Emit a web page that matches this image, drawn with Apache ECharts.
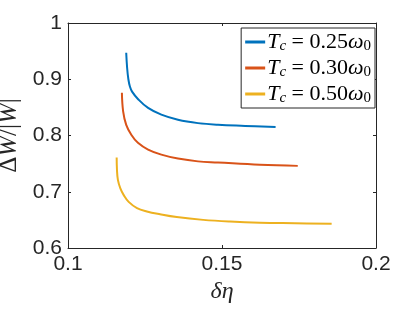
<!DOCTYPE html>
<html><head><meta charset="utf-8">
<script src="https://cdn.jsdelivr.net/npm/echarts@6/dist/echarts.min.js"></script>
<style>html,body{margin:0;padding:0;background:#fff}#c{width:415px;height:312px}</style>
</head><body><div id="c"></div>
<script>
var seriesNames = ['0.25', '0.30', '0.50'];
var blueX = [0.1189, 0.1192, 0.1196, 0.1201, 0.1208, 0.1227, 0.1260, 0.1303, 0.1357, 0.1422, 0.1487, 0.1575, 0.1674];
var blueY = [0.947, 0.920, 0.900, 0.887, 0.878, 0.865, 0.849, 0.837, 0.828, 0.822, 0.819, 0.817, 0.815];
var redX = [0.1175, 0.1179, 0.1189, 0.1206, 0.1227, 0.1260, 0.1303, 0.1357, 0.1422, 0.1487, 0.1623, 0.1746];
var redY = [0.876, 0.843, 0.819, 0.801, 0.787, 0.775, 0.766, 0.759, 0.754, 0.752, 0.748, 0.746];
var yelX = [0.1158, 0.1159, 0.1162, 0.1170, 0.1181, 0.1197, 0.1224, 0.1256, 0.1299, 0.1353, 0.1439, 0.1526, 0.1623, 0.1737, 0.1856];
var yelY = [0.761, 0.739, 0.721, 0.706, 0.694, 0.682, 0.671, 0.665, 0.660, 0.655, 0.650, 0.647, 0.645, 0.644, 0.643];
var xTicks = [0.1, 0.15, 0.2];
var yTicks = [0.6, 0.7, 0.8, 0.9, 1];

function pairs(xs, ys) { return xs.map(function (x, i) { return [x, ys[i]]; }); }
var colors = ['#0072BD', '#D95319', '#EDB120'];
var dataSets = [pairs(blueX, blueY), pairs(redX, redY), pairs(yelX, yelY)];

var axisColor = '#262626';
var chart = echarts.init(document.getElementById('c'), null, {renderer: 'canvas'});
var mathRich = {
  i: {fontFamily: 'Liberation Serif', fontStyle: 'italic', fontSize: 22, lineHeight: 21, color: '#000'},
  n: {fontFamily: 'Liberation Serif', fontSize: 22, lineHeight: 21, color: '#000'},
  s: {fontFamily: 'Liberation Serif', fontStyle: 'italic', fontSize: 15, color: '#000', verticalAlign: 'bottom', padding: [9, 0, 0, 0]},
  z: {fontFamily: 'Liberation Serif', fontSize: 15, color: '#000', verticalAlign: 'bottom', padding: [9, 0, 0, 0]}
};
var option = {
  animation: false,
  color: colors,
  grid: {left: 68, right: 39, top: 23, bottom: 64, containLabel: false, outerBoundsMode: 'none'},
  xAxis: [{
    type: 'value', min: 0.1, max: 0.2, interval: 0.05,
    axisLine: {lineStyle: {color: axisColor, width: 1}},
    axisTick: {inside: true, length: 3, lineStyle: {color: axisColor}},
    splitLine: {show: false},
    axisLabel: {fontFamily: 'Liberation Sans', fontSize: 21, color: '#262626', margin: 6,
      formatter: function (v) { return String(+v.toFixed(2)); }},
    name: '{i|δη}', nameLocation: 'middle', nameGap: 31,
    nameTextStyle: {rich: {i: {fontFamily: 'Liberation Serif', fontStyle: 'italic', fontSize: 24, color: '#262626'}}}
  }, {
    type: 'value', min: 0.1, max: 0.2, interval: 0.05, position: 'top',
    axisLine: {lineStyle: {color: axisColor, width: 1}},
    axisTick: {inside: true, length: 3, lineStyle: {color: axisColor}},
    axisLabel: {show: false}, splitLine: {show: false}
  }],
  yAxis: [{
    type: 'value', min: 0.6, max: 1, interval: 0.1,
    axisLine: {show: true, lineStyle: {color: axisColor, width: 1}},
    axisTick: {show: true, inside: true, length: 3, lineStyle: {color: axisColor}},
    splitLine: {show: false},
    axisLabel: {fontFamily: 'Liberation Sans', fontSize: 21, color: '#262626', margin: 6,
      formatter: function (v) { return String(+v.toFixed(2)); }},
    name: '{n|Δ}{i|W}{n|/|}{i|W}{n||}', nameLocation: 'middle', nameGap: 41, nameRotate: 90,
    nameTextStyle: {rich: {
      i: {fontFamily: 'Liberation Serif', fontStyle: 'italic', fontSize: 25, color: '#262626'},
      n: {fontFamily: 'Liberation Serif', fontSize: 25, color: '#262626'}
    }}
  }, {
    type: 'value', min: 0.6, max: 1, interval: 0.1, position: 'right',
    axisLine: {show: true, lineStyle: {color: axisColor, width: 1}},
    axisTick: {show: true, inside: true, length: 3, lineStyle: {color: axisColor}},
    axisLabel: {show: false}, splitLine: {show: false}
  }],
  legend: {
    orient: 'vertical', right: 40, top: 28,
    backgroundColor: '#fff', borderColor: '#262626', borderWidth: 1,
    padding: [3, 4, 2, 4], itemGap: 3,
    icon: 'rect', itemWidth: 20, itemHeight: 3,
    data: seriesNames,
    formatter: function (name) {
      return '{i|T}{s|c}{n| = ' + name + '}{i|ω}{z|0}';
    },
    textStyle: {rich: mathRich, padding: [0, 0, 0, -3]}
  },
  series: seriesNames.map(function (n, k) {
    return {
      name: n, type: 'line', data: dataSets[k], showSymbol: false, symbol: 'none',
      smooth: 0.4,
      lineStyle: {width: 2, color: colors[k]}, itemStyle: {color: colors[k]}
    };
  })
};
chart.setOption(option);
</script></body></html>
